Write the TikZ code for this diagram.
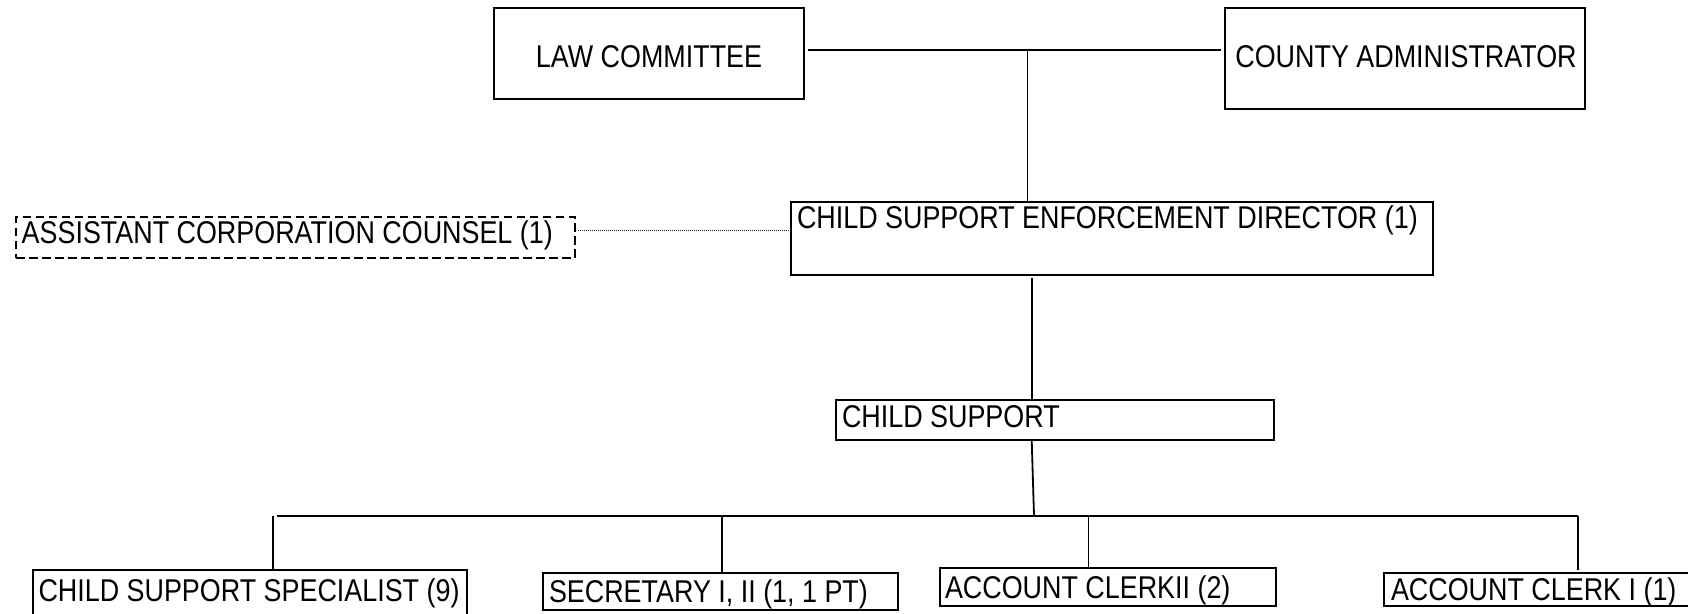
\documentclass[tikz,border=0pt]{standalone}
\usepackage{fontspec}
\setmainfont{Liberation Sans}
\usepackage{graphicx}
\newcommand{\vstr}[1]{\scalebox{1}[1.17]{#1}}
\tikzset{
  box/.style={draw=black, line width=2pt, inner sep=0pt, outer sep=0pt, rectangle, anchor=north west},
  dbox/.style={box, line width=1.7pt, dash pattern=on 8.5pt off 4.5pt},
  txt/.style={inner sep=0pt, outer sep=0pt, font=\fontsize{26.9}{30}\selectfont},
  conn/.style={draw=black, line width=1.8pt},
  dotline/.style={draw=black!85, line width=1pt, dash pattern=on 1pt off 1pt}
}
\begin{document}
\begin{tikzpicture}[x=1pt, y=-1pt]
\useasboundingbox (0,0) rectangle (1688,613);
% boxes
\node[box, minimum width=310pt, minimum height=91.5pt] (law) at (494,7.5) {};
\node[box, minimum width=360pt, minimum height=101pt] (county) at (1225,7.5) {};
\node[box, minimum width=642pt, minimum height=73.5pt] (director) at (791,201.5) {};
\node[dbox, minimum width=559pt, minimum height=41pt] (acc) at (16,216.7) {};
\node[box, minimum width=438pt, minimum height=40pt] (cs) at (836,400) {};
\node[box, minimum width=434pt, minimum height=60pt] (spec) at (33,570) {};
\node[box, minimum width=355.3pt, minimum height=37.3pt] (sec) at (542.7,572.7) {};
\node[box, minimum width=336pt, minimum height=38pt] (ac2) at (940,568) {};
\node[box, minimum width=330pt, minimum height=33.3pt] (ac1) at (1384,572.7) {};
% texts
\node[txt, anchor=base] (lawT) at (649,67) {\vstr{LAW COMMITTEE}};
\node[txt, anchor=base] (countyT) at (1406,67) {\vstr{COUNTY ADMINISTRATOR}};
\node[txt, anchor=base west] (directorT) at (797,228) {\vstr{CHILD SUPPORT ENFORCEMENT DIRECTOR (1)}};
\node[txt, anchor=base west] (accT) at (21.7,243.5) {\vstr{ASSISTANT CORPORATION COUNSEL (1)}};
\node[txt, anchor=base west] (csT) at (842,427) {\vstr{CHILD SUPPORT}};
\node[txt, anchor=base west] (specT) at (38.5,601) {\vstr{CHILD SUPPORT SPECIALIST (9)}};
\node[txt, anchor=base west] (secT) at (549,602) {\vstr{SECRETARY I, II (1, 1 PT)}};
\node[txt, anchor=base west] (ac2T) at (945,598) {\vstr{ACCOUNT CLERKII (2)}};
\node[txt, anchor=base west] (ac1T) at (1391,600) {\vstr{ACCOUNT CLERK I (1)}};
% helper coordinates
\coordinate (j1) at (1027.5,50);
\coordinate (d1) at (0,230.4);
\coordinate (v2) at (1031.7,278);
\coordinate (b0) at (1034,515.7);
\coordinate (bl) at (276.7,515.7);
\coordinate (br) at (1578,515.7);
\coordinate (s1) at (273,515.7);
\coordinate (s2) at (721.7,515.7);
\coordinate (s3) at (1088.5,515.7);
% connectors
\draw[conn] ([xshift=4pt]law.east |- j1) -- ([xshift=-4pt]county.west |- j1);
\draw[conn] (j1) -- (j1 |- director.north);
\draw[dotline] ([xshift=3pt]acc.east |- d1) -- (director.west |- d1);
\draw[conn] (v2) -- (v2 |- cs.north);
\draw[conn] (cs.south -| v2) -- (b0);
\draw[conn] (bl) -- (br);
\draw[conn] (s1) -- (s1 |- spec.north);
\draw[conn] (s2) -- (s2 |- sec.north);
\draw[conn] (s3) -- (s3 |- ac2.north);
\draw[conn] (br) -- ([yshift=3pt]br |- ac1.north);
\end{tikzpicture}
\end{document}
